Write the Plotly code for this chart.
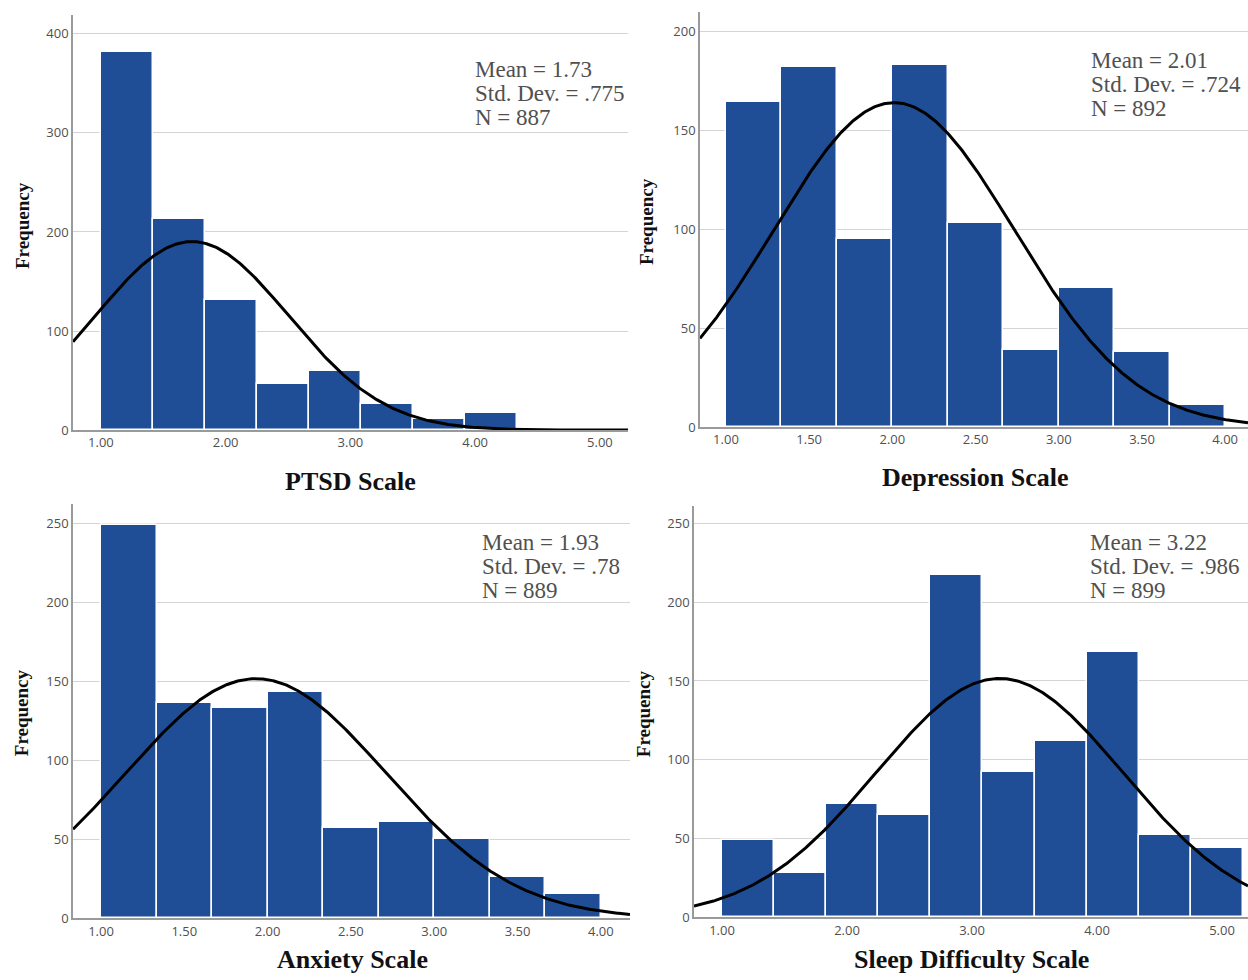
import numpy as np
import plotly.graph_objects as go

W, H = 1248, 980

# ---------------- data ----------------
ptsd_counts = [382, 213, 131, 47, 60, 26, 11, 17]
ptsd_bin_start, ptsd_bin_width = 1.0, 5 / 12
ptsd_mean, ptsd_sd, ptsd_n = 1.73, 0.775, 887

dep_counts = [164, 182, 95, 183, 103, 39, 70, 38, 11]
dep_bin_start, dep_bin_width = 1.0, 1 / 3
dep_mean, dep_sd, dep_n = 2.01, 0.724, 892

anx_counts = [249, 136, 133, 143, 57, 61, 50, 26, 15]
anx_bin_start, anx_bin_width = 1.0, 1 / 3
anx_mean, anx_sd, anx_n = 1.93, 0.78, 889

slp_counts = [49, 28, 72, 65, 217, 92, 112, 168, 52, 44]
slp_bin_start, slp_bin_width = 1.0, 5 / 12
slp_mean, slp_sd, slp_n = 3.22, 0.986, 899

titles = ["PTSD Scale", "Depression Scale", "Anxiety Scale", "Sleep Difficulty Scale"]
stat_texts = [
    ["Mean = 1.73", "Std. Dev. = .775", "N = 887"],
    ["Mean = 2.01", "Std. Dev. = .724", "N = 892"],
    ["Mean = 1.93", "Std. Dev. = .78", "N = 889"],
    ["Mean = 3.22", "Std. Dev. = .986", "N = 899"],
]
x_ticks = [
    [1, 2, 3, 4, 5],
    [1, 1.5, 2, 2.5, 3, 3.5, 4],
    [1, 1.5, 2, 2.5, 3, 3.5, 4],
    [1, 2, 3, 4, 5],
]
y_ticks = [
    [0, 100, 200, 300, 400],
    [0, 50, 100, 150, 200],
    [0, 50, 100, 150, 200, 250],
    [0, 50, 100, 150, 200, 250],
]

# ---------------- layout geometry (pixels) ----------------
panels = [
    dict(counts=ptsd_counts, b0=ptsd_bin_start, bw=ptsd_bin_width, mean=ptsd_mean, sd=ptsd_sd, n=ptsd_n,
         xpx=(73, 628), ypx=(430, 15), xr=(0.776, 5.225), yr=(0, 419),
         title_xy=(350, 481), freq_xy=(22, 226), stat_xy=(473, 69)),
    dict(counts=dep_counts, b0=dep_bin_start, bw=dep_bin_width, mean=dep_mean, sd=dep_sd, n=dep_n,
         xpx=(700, 1248), ypx=(427, 12), xr=(0.844, 4.137), yr=(0, 209.6),
         title_xy=(975, 477), freq_xy=(646, 222), stat_xy=(1089, 60)),
    dict(counts=anx_counts, b0=anx_bin_start, bw=anx_bin_width, mean=anx_mean, sd=anx_sd, n=anx_n,
         xpx=(73, 630), ypx=(918, 504), xr=(0.832, 4.175), yr=(0, 262),
         title_xy=(352, 959), freq_xy=(21, 713), stat_xy=(480, 542)),
    dict(counts=slp_counts, b0=slp_bin_start, bw=slp_bin_width, mean=slp_mean, sd=slp_sd, n=slp_n,
         xpx=(694, 1248), ypx=(917, 506), xr=(0.776, 5.208), yr=(0, 261),
         title_xy=(971, 959), freq_xy=(643, 713), stat_xy=(1088, 542)),
]

YS = 1.0095  # vertical calibration


def px(x):
    return x / W


def py(y):
    return max(0.0, 1 - (y * YS) / H)


BAR = "#1f4e96"
GRID = "#d4d4d4"
AXIS = "#9a9a9a"
SERIF = "Liberation Serif"
TICKFONT = dict(family="Open Sans", size=13, color="#505050")

fig = go.Figure()
annotations = []

for i, p in enumerate(panels):
    k = "" if i == 0 else str(i + 1)
    xa, ya = "x" + k, "y" + k
    centers = [p["b0"] + p["bw"] * (j + 0.5) for j in range(len(p["counts"]))]
    fig.add_trace(go.Bar(
        x=centers, y=p["counts"], width=[p["bw"]] * len(centers),
        marker=dict(color=BAR, line=dict(color="white", width=1.5)),
        xaxis=xa, yaxis=ya, showlegend=False, hoverinfo="x+y",
    ))
    xs = np.linspace(p["xr"][0], p["xr"][1], 400)
    ys = p["n"] * p["bw"] * np.exp(-0.5 * ((xs - p["mean"]) / p["sd"]) ** 2) / (p["sd"] * np.sqrt(2 * np.pi))
    fig.add_trace(go.Scatter(
        x=xs, y=ys, mode="lines", line=dict(color="black", width=3),
        xaxis=xa, yaxis=ya, showlegend=False, hoverinfo="skip",
    ))

    fig.layout["xaxis" + k] = dict(
        domain=[px(p["xpx"][0]), px(p["xpx"][1])], range=list(p["xr"]),
        anchor=ya, tickvals=x_ticks[i], tickformat=".2f", tickfont=TICKFONT,
        showgrid=False, zeroline=False, showline=True, linecolor=AXIS, linewidth=1.5,
        ticks="", fixedrange=True,
    )
    fig.layout["yaxis" + k] = dict(
        domain=[py(p["ypx"][0]), py(p["ypx"][1])], range=list(p["yr"]),
        anchor=xa, tickvals=y_ticks[i], tickfont=TICKFONT,
        showgrid=True, gridcolor=GRID, gridwidth=1.2, zeroline=False,
        showline=True, linecolor=AXIS, linewidth=1.5, ticks="", fixedrange=True,
    )

    tx, ty = p["title_xy"]
    annotations.append(dict(text="<b>%s</b>" % titles[i], x=px(tx), y=py(ty), xref="paper", yref="paper",
                            xanchor="center", yanchor="middle", showarrow=False,
                            font=dict(family=SERIF, size=26, color="#111111")))
    fx, fy = p["freq_xy"]
    annotations.append(dict(text="<b>Frequency</b>", x=px(fx), y=py(fy), xref="paper", yref="paper",
                            xanchor="center", yanchor="middle", showarrow=False, textangle=-90,
                            font=dict(family=SERIF, size=19, color="#111111")))
    sx, sy = p["stat_xy"]
    for j, line in enumerate(stat_texts[i]):
        annotations.append(dict(text=line, x=px(sx), y=py(sy + 24 * j), xref="paper", yref="paper",
                                xanchor="left", yanchor="middle", showarrow=False,
                                font=dict(family=SERIF, size=23, color="#505050")))

fig.update_layout(
    width=W, height=H, margin=dict(l=0, r=0, t=0, b=0),
    paper_bgcolor="white", plot_bgcolor="white",
    bargap=0, annotations=annotations,
)

fig.write_html(
    "out.html",
    config={"displayModeBar": False},
    post_script="document.body.style.margin='0';document.body.style.overflow='hidden';",
)
